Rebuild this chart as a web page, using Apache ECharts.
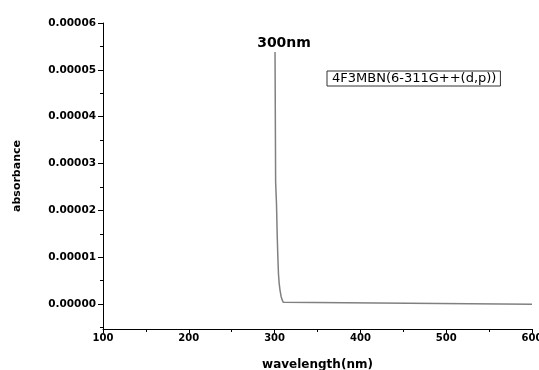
<!DOCTYPE html>
<html>
<head>
<meta charset="utf-8">
<script src="https://cdn.jsdelivr.net/npm/echarts@6/dist/echarts.min.js"></script>
<style>
  html, body { margin: 0; padding: 0; background: #fff; }
  #chart { width: 539px; height: 370px; }
</style>
</head>
<body>
<div id="chart"></div>
<script>
// spectrum
const wavelength = [300.5, 301.2, 302.2, 303.1, 303.8, 304.5, 305.3, 306.3, 307.5, 308.8, 310.2, 312, 600];
const absorbance = [5.38e-5, 2.6e-5, 2.15e-5, 1.43e-5, 1.0e-5, 0.65e-5, 0.45e-5, 0.3e-5, 0.17e-5, 0.09e-5, 0.04e-5, 0, 0];

const yMajorTicks = [0, 0.00001, 0.00002, 0.00003, 0.00004, 0.00005, 0.00006];
const yMinorTicks = [-0.000005, 0.000005, 0.000015, 0.000025, 0.000035, 0.000045, 0.000055];

const seriesName = '4F3MBN(6-311G++(d,p))';
const peakLabel = '300nm';

const font = 'DejaVu Sans';
const chart = echarts.init(document.getElementById('chart'));

const yMin = -0.0000053;
const yMax = 0.00006;

const option = {
  animation: false,
  backgroundColor: '#fff',
  textStyle: { fontFamily: font },
  grid: { left: 103, right: 7, top: 23, bottom: 41, outerBoundsMode: 'none', containLabel: false },
  legend: {
    data: [{ name: seriesName, icon: 'none' }],
    left: 327,
    top: 71,
    itemWidth: 0,
    itemHeight: 0,
    padding: [1, 4, 1, 0],
    borderColor: '#333',
    borderWidth: 1,
    textStyle: { fontFamily: font, fontSize: 13, color: '#000' },
  },
  xAxis: {
    type: 'value',
    min: 100,
    max: 600,
    interval: 100,
    name: 'wavelength(nm)',
    nameLocation: 'middle',
    nameGap: 30,
    nameTextStyle: { fontFamily: font, fontSize: 12, fontWeight: 'bold', color: '#000' },
    axisLine: { onZero: false, lineStyle: { color: '#000', width: 1 } },
    axisTick: { length: 4, lineStyle: { color: '#000' } },
    minorTick: { show: true, splitNumber: 2, length: 3, lineStyle: { color: '#000' } },
    axisLabel: { fontFamily: font, fontSize: 10, fontWeight: 'bold', color: '#000', margin: 4 },
    splitLine: { show: false },
  },
  yAxis: [
    {
      type: 'value',
      min: yMin,
      max: yMax,
      name: 'absorbance',
      nameLocation: 'middle',
      nameGap: 80,
      nameTextStyle: { fontFamily: font, fontSize: 11, fontWeight: 'bold', color: '#000' },
      axisLine: { onZero: false, lineStyle: { color: '#000', width: 1 } },
      axisTick: { length: 5, customValues: yMajorTicks, lineStyle: { color: '#000' } },
      axisLabel: {
        customValues: yMajorTicks,
        fontFamily: font,
        fontSize: 10.5,
        fontWeight: 'bold',
        color: '#000',
        margin: 7,
        formatter: v => v.toFixed(5),
      },
      splitLine: { show: false },
    },
    {
      type: 'value',
      min: yMin,
      max: yMax,
      position: 'left',
      axisLine: { show: false },
      axisTick: { length: 3, customValues: yMinorTicks, lineStyle: { color: '#000' } },
      axisLabel: { show: false },
      splitLine: { show: false },
    },
  ],
  series: [
    {
      name: seriesName,
      type: 'line',
      yAxisIndex: 0,
      data: wavelength.map((w, i) => [w, absorbance[i]]),
      showSymbol: false,
      symbol: 'none',
      lineStyle: { color: '#808080', width: 1.5 },
      itemStyle: { color: '#808080' },
      markPoint: {
        symbol: 'circle',
        symbolSize: 0,
        data: [{ coord: [wavelength[0], absorbance[0]] }],
        label: {
          show: true,
          formatter: peakLabel,
          position: 'top',
          offset: [9, 0],
          distance: 2,
          fontFamily: font,
          fontSize: 14,
          fontWeight: 'bold',
          color: '#000',
        },
      },
    },
  ],
};

chart.setOption(option);
</script>
</body>
</html>
